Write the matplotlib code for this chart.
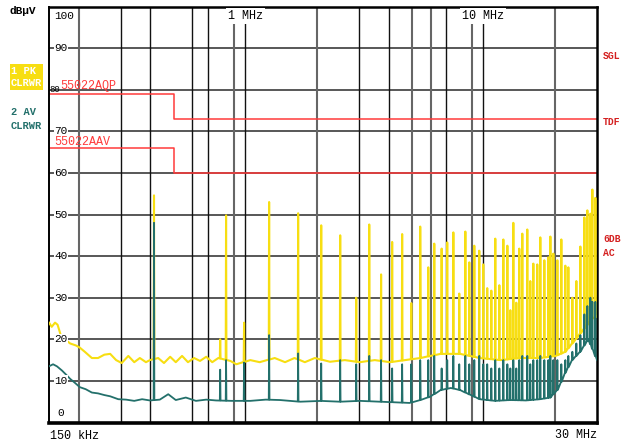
import matplotlib
matplotlib.use('Agg')
import matplotlib.pyplot as plt
from matplotlib.patches import Rectangle
import numpy as np

# frequencies in MHz, levels in dBuV

# limit lines (EN 55022 class A)
lim_f = [0.15, 0.5, 0.5, 30]
lim_qp = [79, 79, 73, 73]
lim_av = [66, 66, 60, 60]

# peak trace floor
pk_base_f = [0.15, 0.154, 0.159, 0.163, 0.168, 0.175, 0.184, 0.195, 0.202, 0.212,
             0.227, 0.241, 0.256, 0.271, 0.287, 0.303, 0.323, 0.342, 0.361, 0.383,
             0.398, 0.431, 0.456, 0.484, 0.511, 0.543, 0.575, 0.61, 0.646, 0.686,
             0.727, 0.771, 0.866, 0.918, 1.05, 1.15, 1.33, 1.47, 1.61, 1.78,
             1.96, 2.27, 2.62, 3.03, 3.5, 4.05, 4.69, 5.43, 6.61, 7.99,
             9.66, 11.8, 14.3, 17.3, 20.1, 22.1, 24.4, 26.9, 28.7, 30]
pk_base_v = [24, 23, 24, 23.5, 21, 20, 19, 18.5, 18, 17,
             15.5, 15.5, 16.3, 16.5, 15, 14.3, 16, 14.5, 15.5, 14.5,
             15, 15.5, 14.3, 15.8, 14.5, 16, 14.5, 15.5, 14.8, 15.8,
             14.5, 15.5, 14.8, 14, 15, 14.5, 15.5, 14.5, 15.5, 14.5,
             15.5, 14.6, 15, 14.5, 15, 14.5, 15, 15.5, 16.5, 16.5,
             15.5, 15, 15.5, 15.5, 16, 17, 20, 23, 25, 25.5]

# average trace floor
av_base_f = [0.15, 0.156, 0.162, 0.17, 0.177, 0.184, 0.193, 0.202, 0.214, 0.227,
             0.241, 0.256, 0.271, 0.293, 0.316, 0.342, 0.369, 0.398, 0.438, 0.475,
             0.511, 0.563, 0.621, 0.686, 0.754, 0.878, 1.05, 1.22, 1.4, 1.7,
             2.06, 2.5, 3.03, 3.68, 4.47, 4.9, 5.43, 5.98, 6.61, 7.3,
             7.99, 8.7, 9.66, 11.2, 13.0, 15.1, 17.3, 19.1, 20.6, 22.1,
             23.6, 25.5, 27.6, 30]
av_base_v = [13.5, 14, 13.5, 12.5, 11.5, 10.5, 9.5, 8.5, 8, 7.2,
             7, 6.6, 6.3, 5.6, 5.5, 5.2, 5.6, 5.3, 5.5, 6.8,
             5.4, 6, 5.2, 5.5, 5.3, 5.2, 5.2, 5.5, 5.4, 5,
             5.2, 5, 5.2, 5, 4.8, 4.7, 5.4, 6.2, 7.8, 8.3,
             7.8, 6.8, 5.6, 5.2, 5.4, 5.3, 5.6, 6, 8, 12,
             15, 17, 20, 15]

# emission lines: frequency, peak level, average level
spk_f = [0.414, 0.785, 0.831, 0.989, 1.26, 1.668, 2.085, 2.505, 2.925, 3.317,
         3.72, 4.14, 4.56, 4.98, 5.43, 5.87, 6.22, 6.68, 7.05, 7.48,
         7.92, 8.40, 8.73, 9.16, 9.61, 9.99, 10.38, 10.80, 11.22, 11.67,
         12.13, 12.61, 12.98, 13.36, 13.75, 14.15, 14.57, 15.29, 15.74, 16.21,
         16.84, 17.34, 18.03, 18.74, 19.11, 19.67, 20.45, 21.25, 22.09, 22.74,
         23.64, 24.57, 25.54, 26.55, 27.33, 28.14, 28.68, 29.53]
spk_pk = [54.6, 20, 49.8, 24, 53, 50.3, 47.4, 45, 30, 47.6,
          35.6, 43.4, 45.3, 28.7, 47.1, 37.3, 43, 41.8, 43.3, 45.7,
          31, 45.9, 38.5, 42.5, 41.3, 38, 32.3, 31.7, 44.2, 33,
          44, 42.5, 27, 48, 28.8, 41.8, 45.4, 46.4, 34, 38.2,
          38, 44.5, 39, 39.7, 44.7, 40.6, 39, 44, 37.7, 37.3,
          30, 34, 42.3, 49.3, 51, 50.2, 56, 54]
spk_av = [48, 12.7, 15, 14.4, 21, 16.6, 14.2, 15, 14, 16,
          15, 13, 14, 14, 15, 15, 16, 13, 15, 16,
          14, 16, 14, 15, 16, 14, 14, 13, 15, 13,
          15, 14, 13, 15, 13, 15, 16, 16, 14, 15,
          15, 16, 15, 15, 16, 15, 15, 14, 15, 16,
          17, 19, 21, 26, 28, 30, 29, 29]

grid_dark = [0.3, 0.4, 0.6, 0.7, 1, 3, 4, 7, 10]
grid_gray = [0.2, 0.9, 2, 5, 6, 9, 20]

YEL = '#f7de12'
TEAL = '#23706b'
RED = '#ff3a3a'


def trace(bf, bv, sf, sv):
    # floor curve plus narrow lines sitting on it
    lf = np.log10(bf)
    pts = list(zip(bf, bv))
    w = 0.0015
    for fi, vi in zip(sf, sv):
        foot = np.interp(np.log10(fi), lf, bv)
        pts.append((fi * 10 ** -w, foot))
        pts.append((fi, vi))
        pts.append((fi * 10 ** w, foot))
    pts.sort(key=lambda p: p[0])
    return [p[0] for p in pts], [p[1] for p in pts]


fig = plt.figure(figsize=(6.26, 4.41), dpi=100)
ax = fig.add_axes([49 / 626, 1 - 422.5 / 441, 548 / 626, 416 / 441])
ax.set_xscale('log')
ax.set_xlim(0.15, 30)
ax.set_ylim(0, 100)
ax.set_xticks([])
ax.set_yticks([])
ax.xaxis.set_minor_locator(matplotlib.ticker.NullLocator())

for s in ['top', 'right']:
    ax.spines[s].set_linewidth(1.8)
ax.spines['left'].set_linewidth(1.4)
ax.spines['bottom'].set_linewidth(2.6)

for y in range(10, 100, 10):
    ax.axhline(y, color='#2a2a2a', lw=1.1, zorder=1)
for g in grid_dark:
    ax.axvline(g, color='#111111', lw=1.0, zorder=1)
for g in grid_gray:
    ax.axvline(g, color='#666666', lw=1.5, zorder=1)

ax.plot(lim_f, lim_qp, color=RED, lw=1.1, zorder=2)
ax.plot(lim_f, lim_av, color=RED, lw=1.1, zorder=2)

px, py = trace(pk_base_f, pk_base_v, spk_f, spk_pk)
ax.plot(px, py, color=YEL, lw=1.5, zorder=3)
qx, qy = trace(av_base_f, av_base_v, spk_f, spk_av)
ax.plot(qx, qy, color=TEAL, lw=1.3, zorder=4)

mono = 'Liberation Mono'
wb = dict(facecolor='white', edgecolor='none', pad=0.6)

for y in range(10, 100, 10):
    if y == 80:
        continue
    ax.text(0.158, y, str(y), fontsize=8, family=mono, va='center', ha='left',
            bbox=wb, zorder=5)
ax.text(0.1505, 80, '80', fontsize=6.5, family=mono, va='center', ha='left',
        zorder=5)
ax.text(0.158, 97.8, '100', fontsize=8, family=mono, va='center', ha='left', zorder=5)
ax.text(0.162, 2.2, '0', fontsize=8, family=mono, va='center', ha='left', zorder=5)

ax.text(0.1665, 81.0, '55022AQP', fontsize=8.5, family=mono, color=RED, va='center',
        ha='left', zorder=6)
ax.text(0.158, 67.5, '55022AAV', fontsize=8.5, family=mono, color=RED, va='center',
        ha='left', zorder=6)

ax.text(1.0, 97.7, '1 MHz', fontsize=8.5, family=mono, ha='center', va='center',
        bbox=dict(facecolor='white', edgecolor='none', pad=1.5), zorder=5)
ax.text(10.0, 97.7, '10 MHz', fontsize=8.5, family=mono, ha='center', va='center',
        bbox=dict(facecolor='white', edgecolor='none', pad=1.5), zorder=5)

fig.text(10 / 626, 1 - 11 / 441, 'dB\u03bcV', fontsize=8, family=mono,
         weight='bold', va='center', ha='left')
fig.text(50 / 626, 1 - 436 / 441, '150 kHz', fontsize=8.5, family=mono,
         va='center', ha='left')
fig.text(597 / 626, 1 - 435 / 441, '30 MHz', fontsize=8.5, family=mono,
         va='center', ha='right')

fig.patches.append(Rectangle((10 / 626, 1 - 90 / 441), 33 / 626, 26 / 441,
                             transform=fig.transFigure, facecolor=YEL,
                             edgecolor='none'))
fig.text(11 / 626, 1 - 70.5 / 441, '1 PK', fontsize=7.5, family=mono, weight='bold',
         color='white', va='center', ha='left')
fig.text(11 / 626, 1 - 82.5 / 441, 'CLRWR', fontsize=7.5, family=mono, weight='bold',
         color='white', va='center', ha='left')
fig.text(11 / 626, 1 - 112 / 441, '2 AV', fontsize=7.5, family=mono, weight='bold',
         color=TEAL, va='center', ha='left')
fig.text(11 / 626, 1 - 126 / 441, 'CLRWR', fontsize=7.5, family=mono, weight='bold',
         color=TEAL, va='center', ha='left')

for lab, yy in [('SGL', 56), ('TDF', 122), ('6DB', 239), ('AC', 253)]:
    fig.text(603 / 626, 1 - yy / 441, lab, fontsize=7, family=mono, weight='bold',
             color='#d42020', va='center', ha='left')

fig.savefig('out.png', dpi=100)
